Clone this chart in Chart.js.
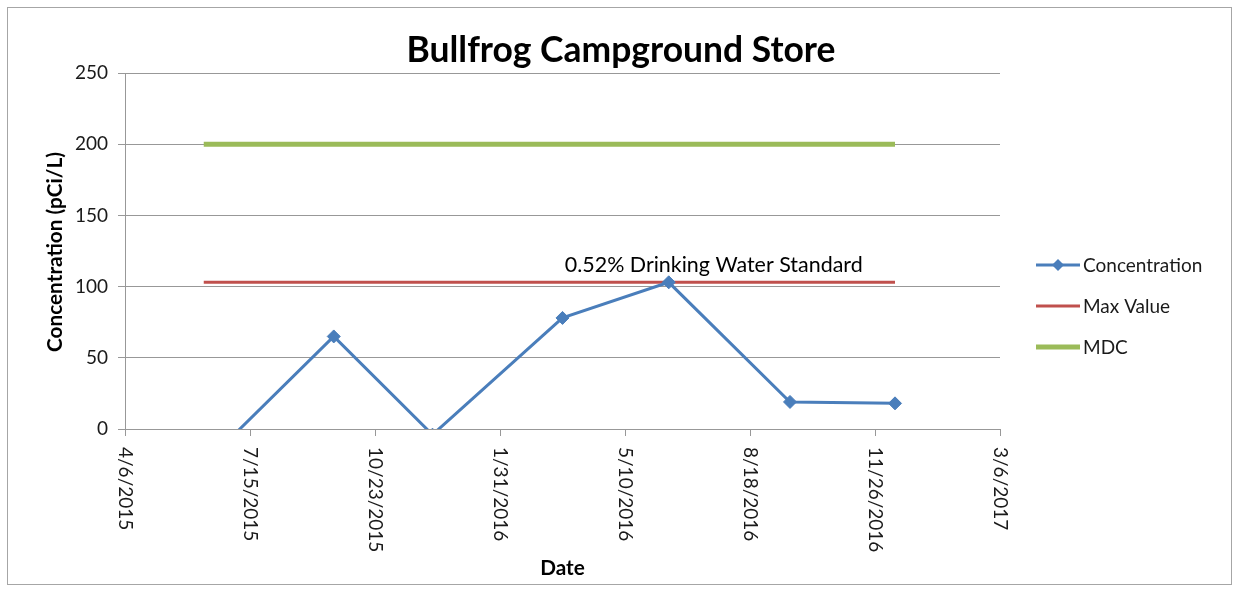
<!DOCTYPE html>
<html>
<head>
<meta charset="utf-8">
<script src="https://cdn.jsdelivr.net/npm/chart.js@4.4.1/dist/chart.umd.min.js"></script>
<style>
  html, body { margin: 0; padding: 0; background: #ffffff; }
  #wrap { width: 1238px; height: 589px; }
</style>
</head>
<body>
<div id="wrap"><canvas id="c" width="1238" height="589"></canvas></div>
<script>
// ---------------- data ----------------
const chartTitle = 'Bullfrog Campground Store';
const yAxisTitle = 'Concentration (pCi/L)';
const xAxisTitle = 'Date';
const annotationText = '0.52% Drinking Water Standard';

const startDate = '2015-04-06';
const endDate = '2017-03-06';
const xTickLabels = ['4/6/2015', '7/15/2015', '10/23/2015', '1/31/2016', '5/10/2016', '8/18/2016', '11/26/2016', '3/6/2017'];
const yTickValues = [0, 50, 100, 150, 200, 250];

const concDates = ['2015-06-08', '2015-09-20', '2015-12-08', '2016-03-21', '2016-06-14', '2016-09-19', '2016-12-12'];
const concValues = [-25, 65, -4, 78, 103, 19, 18];

const maxValueDates = ['2015-06-08', '2016-12-12'];
const maxValueValues = [103, 103];

const mdcDates = ['2015-06-08', '2016-12-12'];
const mdcValues = [200, 200];

const seriesNames = ['Concentration', 'Max Value', 'MDC'];
const seriesColors = ['#4A7EBB', '#C0504D', '#9BBB59'];

// ---------------- helpers ----------------
function dayOf(s) {
  const p = s.split('-').map(Number);
  const q = startDate.split('-').map(Number);
  return Math.round((Date.UTC(p[0], p[1] - 1, p[2]) - Date.UTC(q[0], q[1] - 1, q[2])) / 86400000);
}
function pts(dates, vals) { return dates.map((d, i) => ({ x: dayOf(d), y: vals[i] })); }

const FONT = 'Lato, "Open Sans", "DejaVu Sans", sans-serif';
const GRID = '#989898';
const TEXT = '#1a1a1a';

function fitFont(ctx, text, weight, target) {
  ctx.font = weight + ' 100px ' + FONT;
  const w = ctx.measureText(text).width;
  return (100 * target / w);
}

const customPlugin = {
  id: 'customDraw',
  beforeDraw(chart) {
    const ctx = chart.ctx;
    ctx.save();
    ctx.fillStyle = '#ffffff';
    ctx.fillRect(0, 0, chart.width, chart.height);
    ctx.strokeStyle = '#a6a6a6';
    ctx.lineWidth = 1;
    ctx.strokeRect(7.5, 7.5, 1224, 577);
    ctx.restore();
  },
  afterDraw(chart) {
    const ctx = chart.ctx;
    const ca = chart.chartArea;
    const xs = chart.scales.x, ys = chart.scales.y;
    ctx.save();
    ctx.fillStyle = '#000000';

    // title
    let fs = fitFont(ctx, chartTitle, 'bold', 429);
    ctx.font = 'bold ' + fs + 'px ' + FONT;
    ctx.textAlign = 'center';
    ctx.textBaseline = 'alphabetic';
    ctx.fillText(chartTitle, 621, 62);

    // y axis title
    fs = fitFont(ctx, yAxisTitle, 'bold', 200);
    ctx.save();
    ctx.translate(55, 252);
    ctx.rotate(-Math.PI / 2);
    ctx.font = 'bold ' + fs + 'px ' + FONT;
    ctx.textAlign = 'center';
    ctx.textBaseline = 'middle';
    ctx.fillText(yAxisTitle, 0, 0);
    ctx.restore();

    // x axis title
    ctx.font = 'bold ' + fs + 'px ' + FONT;
    ctx.textAlign = 'center';
    ctx.textBaseline = 'middle';
    ctx.fillText(xAxisTitle, (ca.left + ca.right) / 2, 568);

    // x tick labels, rotated clockwise
    ctx.fillStyle = TEXT;
    ctx.font = '19px ' + FONT;
    xs.ticks.forEach((t, i) => {
      const px = xs.getPixelForValue(t.value);
      ctx.save();
      ctx.translate(px, ca.bottom + 18);
      ctx.rotate(Math.PI / 2);
      ctx.textAlign = 'left';
      ctx.textBaseline = 'middle';
      ctx.fillText(xTickLabels[i] || '', 0, 0);
      ctx.restore();
    });

    // annotation above Max Value line
    ctx.fillStyle = '#000000';
    fs = fitFont(ctx, annotationText, 'normal', 298);
    ctx.font = fs + 'px ' + FONT;
    ctx.textAlign = 'center';
    ctx.textBaseline = 'alphabetic';
    ctx.fillText(annotationText, xs.getPixelForValue(471), ys.getPixelForValue(maxValueValues[0]) - 10);

    // legend
    const lx0 = 1036, lx1 = 1080, ly = [265, 306, 347], lw = [3, 3, 5];
    ctx.font = '19px ' + FONT;
    ctx.textAlign = 'left';
    ctx.textBaseline = 'middle';
    for (let i = 0; i < seriesNames.length; i++) {
      ctx.strokeStyle = seriesColors[i];
      ctx.lineWidth = lw[i];
      ctx.beginPath();
      ctx.moveTo(lx0, ly[i]);
      ctx.lineTo(lx1, ly[i]);
      ctx.stroke();
      if (i === 0) {
        ctx.fillStyle = seriesColors[0];
        const cx = (lx0 + lx1) / 2, r = 6;
        ctx.beginPath();
        ctx.moveTo(cx, ly[i] - r); ctx.lineTo(cx + r, ly[i]); ctx.lineTo(cx, ly[i] + r); ctx.lineTo(cx - r, ly[i]);
        ctx.closePath(); ctx.fill();
      }
      ctx.fillStyle = TEXT;
      ctx.fillText(seriesNames[i], 1083, ly[i] + 1);
    }
    ctx.restore();
  }
};

new Chart(document.getElementById('c'), {
  type: 'line',
  data: {
    datasets: [
      {
        label: seriesNames[0],
        data: pts(concDates, concValues),
        borderColor: seriesColors[0],
        backgroundColor: seriesColors[0],
        borderWidth: 3,
        pointStyle: 'rectRot',
        pointRadius: 6.5,
        pointBorderWidth: 1,
        tension: 0,
        clip: 0
      },
      {
        label: seriesNames[1],
        data: pts(maxValueDates, maxValueValues),
        borderColor: seriesColors[1],
        backgroundColor: seriesColors[1],
        borderWidth: 3,
        pointRadius: 0,
        tension: 0,
        clip: 0
      },
      {
        label: seriesNames[2],
        data: pts(mdcDates, mdcValues),
        borderColor: seriesColors[2],
        backgroundColor: seriesColors[2],
        borderWidth: 5,
        pointRadius: 0,
        borderCapStyle: 'butt',
        tension: 0,
        clip: 0
      }
    ]
  },
  options: {
    responsive: false,
    animation: false,
    events: [],
    layout: { padding: { left: 0, top: 73, right: 238, bottom: 0 } },
    plugins: { legend: { display: false }, title: { display: false }, tooltip: { enabled: false } },
    scales: {
      x: {
        type: 'linear',
        min: dayOf(startDate),
        max: dayOf(endDate),
        ticks: { display: false, stepSize: 100 },
        grid: { drawOnChartArea: false, drawTicks: true, tickLength: 7, color: GRID, lineWidth: 1 },
        border: { display: true, color: GRID, width: 1 },
        afterFit(s) { s.height = 160; }
      },
      y: {
        type: 'linear',
        min: yTickValues[0],
        max: yTickValues[yTickValues.length - 1],
        afterBuildTicks(s) { s.ticks = yTickValues.map(v => ({ value: v })); },
        ticks: { color: TEXT, font: { family: FONT, size: 19 }, padding: 10 },
        grid: { drawTicks: true, tickLength: 7, color: GRID, lineWidth: 1 },
        border: { display: true, color: GRID, width: 1 },
        afterFit(s) { s.width = 125; }
      }
    }
  },
  plugins: [customPlugin]
});
</script>
</body>
</html>
